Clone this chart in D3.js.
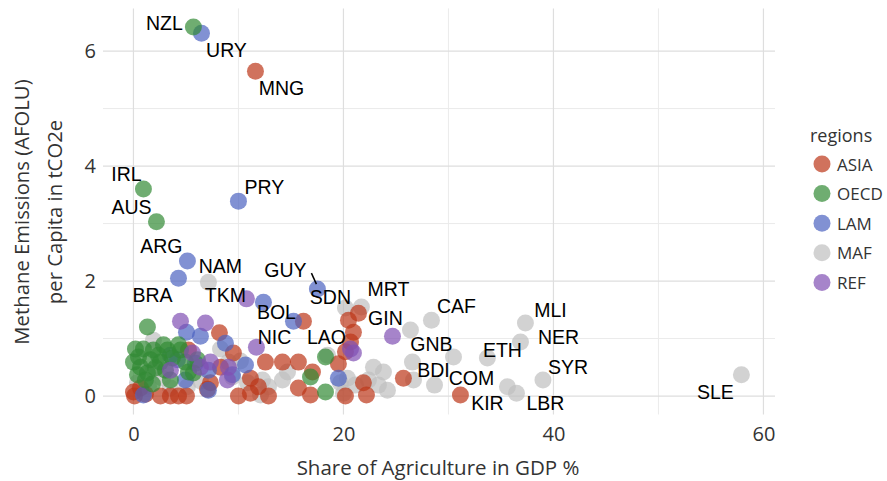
<!DOCTYPE html>
<html>
<head>
<meta charset="utf-8">
<script src="https://cdn.jsdelivr.net/npm/d3@7/dist/d3.min.js"></script>
<style>
  body { margin: 0; background: #fff; }
  svg { display: block; }
</style>
</head>
<body>
<div id="chart"></div>
<script>
// --- data: [x = agri share of GDP %, y = methane per capita tCO2e, label] ---
const regionNames = ["ASIA", "OECD", "LAM", "MAF", "REF"];

const asiaPts = [
  [11.62, 5.65, "MNG"], [16.19, 1.30, "LAO"], [31.14, 0.02, "KIR"],
  [8.19, 1.10], [5.24, 0.80], [9.52, 0.75], [8.29, 0.50], [7.33, 0.23],
  [0.0, 0.07], [0.1, 0.0], [1.14, 0.03], [2.57, 0.0], [3.52, 0.0], [4.29, 0.0],
  [5.05, 0.0], [7.05, 0.12], [10.0, 0.0], [11.14, 0.05], [11.9, 0.16], [12.86, 0.0],
  [12.57, 0.59], [14.19, 0.59], [15.71, 0.59], [17.05, 0.42], [15.71, 0.14],
  [16.86, 0.02], [19.52, 0.56], [20.19, 0.0], [20.67, 0.94], [20.19, 0.77],
  [20.95, 1.11], [20.48, 1.32], [21.43, 1.44], [22.19, 0.02], [21.9, 0.23],
  [25.71, 0.31], [0.67, 0.14], [11.14, 0.31]
];

const oecdPts = [
  [5.71, 6.42, "NZL"], [0.95, 3.60, "IRL"], [2.19, 3.03, "AUS"],
  [1.33, 1.20], [0.19, 0.82], [0.95, 0.82], [1.90, 0.80], [3.24, 0.80], [4.29, 0.89],
  [0.48, 0.68], [1.62, 0.63], [2.57, 0.59], [0.67, 0.50], [1.33, 0.40], [2.10, 0.49],
  [0.0, 0.59], [3.05, 0.45], [3.71, 0.66], [4.95, 0.59], [5.71, 0.40], [4.48, 0.80],
  [2.38, 0.71], [1.14, 0.28], [3.52, 0.28], [5.24, 0.42], [0.38, 0.37], [1.81, 0.21],
  [18.29, 0.68], [16.86, 0.33], [18.29, 0.07], [6.10, 0.63], [2.86, 0.89]
];

const lamPts = [
  [6.48, 6.31, "URY"], [10.0, 3.39, "PRY"], [5.14, 2.35, "ARG"], [4.29, 2.05, "BRA"],
  [17.52, 1.86, "GUY"], [12.38, 1.63, "BOL"], [15.24, 1.30, "NIC"],
  [5.05, 1.11], [6.38, 1.04], [8.76, 0.92], [3.52, 0.71], [4.19, 0.63], [7.14, 0.45],
  [4.95, 0.28], [7.14, 0.10], [0.95, 0.02], [19.52, 0.31], [10.67, 0.54], [9.43, 0.37],
  [5.90, 0.57]
];

const mafPts = [
  [7.14, 1.98, "NAM"], [20.19, 1.53, "SDN"], [21.71, 1.55, "MRT"], [26.38, 1.15, "GIN"],
  [28.38, 1.32, "CAF"], [30.48, 0.68, "GNB"], [33.71, 0.66, "ETH"], [26.57, 0.59, "BDI"],
  [28.67, 0.19, "COM"], [37.33, 1.27, "MLI"], [36.86, 0.94, "NER"], [39.0, 0.28, "SYR"],
  [36.48, 0.05, "LBR"], [57.9, 0.37, "SLE"],
  [1.90, 0.97], [8.29, 0.82], [1.90, 0.45], [2.76, 0.31], [5.14, 0.16], [0.38, 0.23],
  [10.19, 0.61], [9.43, 0.33], [10.86, 0.23], [12.86, 0.16], [12.10, 0.02], [14.67, 0.42],
  [14.19, 0.28], [12.29, 0.28], [18.48, 0.71], [19.71, 0.23], [20.38, 0.31], [20.0, 0.05],
  [22.86, 0.50], [23.33, 0.19], [24.19, 0.10], [22.38, 0.28], [21.14, 0.19], [23.81, 0.42],
  [26.67, 0.28], [35.62, 0.16], [6.38, 0.26], [9.05, 0.59], [3.52, 0.14], [1.43, 0.17]
];

const refPts = [
  [10.76, 1.69, "TKM"],
  [4.48, 1.30], [6.86, 1.27], [11.71, 0.85], [24.67, 1.04], [20.95, 0.75], [20.67, 0.82],
  [5.62, 0.75], [3.52, 0.45], [6.38, 0.50], [8.95, 0.28], [9.05, 0.50], [7.33, 0.59]
];

const xTicks = [0, 20, 40, 60];
const yTicks = [0, 2, 4, 6];
const xMinor = [10, 30, 50];
const yMinor = [1, 3, 5];

// --- layout / style ---
const W = 887, H = 481;
const colors = { ASIA: "#bc3618", OECD: "#328a34", LAM: "#4c62c0", MAF: "#bfbfbf", REF: "#8050b4" };
// label offsets (px) from their point, hand-placed like ggrepel output
const labelOffsets = {
  NZL: [-29, -4], URY: [25, 17], MNG: [26, 17], IRL: [-17, -15], AUS: [-25, -15],
  PRY: [26, -14], ARG: [-26, -15], NAM: [12, -16], BRA: [-26, 17], TKM: [-21, -4],
  GUY: [-32, -19], SDN: [-15, -11], BOL: [13, 10], NIC: [-19, 16], LAO: [23, 16],
  MRT: [27, -18], GIN: [-25, -12], CAF: [25, -14], GNB: [-22, -13], BDI: [21, 8],
  COM: [37, -7], ETH: [15, -8], KIR: [27, 8], MLI: [25, -13], NER: [38, -5],
  SYR: [25, -13], LBR: [29, 10], SLE: [-26, 17]
};
const uiFont = "'Open Sans', sans-serif";

const x = d3.scaleLinear().domain([-2.9, 61.1]).range([103, 775]);
const y = d3.scaleLinear().domain([-0.321, 6.742]).range([414.5, 8.4]);

const svg = d3.select("#chart").append("svg").attr("width", W).attr("height", H);

// grid
const grid = svg.append("g");
grid.selectAll(".xminor").data(xMinor).join("line")
  .attr("x1", d => x(d)).attr("x2", d => x(d)).attr("y1", y.range()[0]).attr("y2", y.range()[1])
  .attr("stroke", "#ebebeb").attr("stroke-width", 1);
grid.selectAll(".yminor").data(yMinor).join("line")
  .attr("y1", d => y(d)).attr("y2", d => y(d)).attr("x1", x.range()[0]).attr("x2", x.range()[1])
  .attr("stroke", "#ebebeb").attr("stroke-width", 1);
grid.selectAll(".xmajor").data(xTicks).join("line")
  .attr("x1", d => x(d)).attr("x2", d => x(d)).attr("y1", y.range()[0]).attr("y2", y.range()[1])
  .attr("stroke", "#dedede").attr("stroke-width", 1.2);
grid.selectAll(".ymajor").data(yTicks).join("line")
  .attr("y1", d => y(d)).attr("y2", d => y(d)).attr("x1", x.range()[0]).attr("x2", x.range()[1])
  .attr("stroke", "#dedede").attr("stroke-width", 1.2);

// axes (labels only, no domain / ticks)
const xAxis = svg.append("g").attr("transform", `translate(0,${y.range()[0]})`)
  .call(d3.axisBottom(x).tickValues(xTicks).tickFormat(d3.format("d")).tickSize(0).tickPadding(12));
const yAxis = svg.append("g").attr("transform", `translate(${x.range()[0]},0)`)
  .call(d3.axisLeft(y).tickValues(yTicks).tickFormat(d3.format("d")).tickSize(0).tickPadding(7));
[xAxis, yAxis].forEach(a => {
  a.select(".domain").remove();
  a.selectAll("text").attr("font-family", uiFont).attr("font-size", 20).attr("fill", "#333");
});

// points
const allPts = [];
[asiaPts, oecdPts, lamPts, mafPts, refPts].forEach((arr, i) => {
  arr.forEach(p => allPts.push({ x: p[0], y: p[1], label: p[2] || "", region: regionNames[i] }));
});
// draw order roughly like a country-ordered table
const drawOrder = ["MAF", "ASIA", "LAM", "OECD", "REF"];
allPts.sort((a, b) => drawOrder.indexOf(a.region) - drawOrder.indexOf(b.region));

svg.append("g").selectAll("circle").data(allPts).join("circle")
  .attr("cx", d => x(d.x)).attr("cy", d => y(d.y)).attr("r", 8.5)
  .attr("fill", d => colors[d.region]).attr("fill-opacity", 0.7);

// labels
const labeled = allPts.filter(d => d.label);
const lab = svg.append("g");
labeled.filter(d => d.label === "GUY").forEach(d => {
  const o = labelOffsets[d.label];
  lab.append("line")
    .attr("x1", x(d.x) + o[0] + 26).attr("y1", y(d.y) + o[1] + 3)
    .attr("x2", x(d.x) - 1).attr("y2", y(d.y) - 5)
    .attr("stroke", "#000").attr("stroke-width", 1.5);
});
lab.selectAll("text").data(labeled).join("text")
  .attr("x", d => x(d.x) + labelOffsets[d.label][0])
  .attr("y", d => y(d.y) + labelOffsets[d.label][1])
  .attr("text-anchor", "middle").attr("dominant-baseline", "central")
  .attr("font-family", "'Liberation Sans', Arial, sans-serif").attr("font-size", 19.5)
  .attr("fill", "#000").text(d => d.label);

// axis titles
svg.append("text").attr("x", 438).attr("y", 467).attr("text-anchor", "middle")
  .attr("dominant-baseline", "central")
  .attr("font-family", uiFont).attr("font-size", 20.5).attr("fill", "#333")
  .text("Share of Agriculture in GDP %");
const yt = svg.append("text").attr("transform", "translate(38,212) rotate(-90)")
  .attr("text-anchor", "middle").attr("font-family", uiFont).attr("font-size", 20.3).attr("fill", "#333");
yt.append("tspan").attr("x", 0).attr("y", -9).text("Methane Emissions (AFOLU)");
yt.append("tspan").attr("x", 0).attr("y", 24).text("per Capita in tCO2e");

// legend
const leg = svg.append("g").attr("transform", "translate(808,0)");
leg.append("text").attr("x", 2).attr("y", 135).attr("dominant-baseline", "central")
  .attr("font-family", uiFont).attr("font-size", 18).attr("fill", "#333").text("regions");
const items = leg.selectAll(".item").data(regionNames).join("g")
  .attr("transform", (d, i) => `translate(0,${164 + i * 29.6})`);
items.append("circle").attr("cx", 14).attr("cy", 0).attr("r", 8.5)
  .attr("fill", d => colors[d]).attr("fill-opacity", 0.7);
items.append("text").attr("x", 29).attr("y", 0).attr("dominant-baseline", "central")
  .attr("font-family", uiFont).attr("font-size", 17).attr("fill", "#333").text(d => d);
</script>
</body>
</html>
